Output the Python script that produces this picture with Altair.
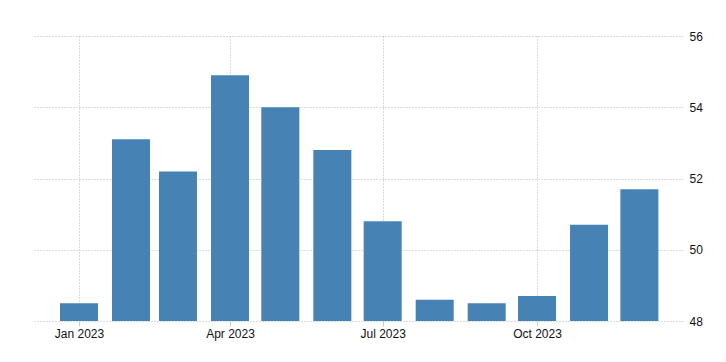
import altair as alt
import pandas as pd

months = ["2023-01-01", "2023-02-01", "2023-03-01", "2023-04-01", "2023-05-01", "2023-06-01",
          "2023-07-01", "2023-08-01", "2023-09-01", "2023-10-01", "2023-11-01", "2023-12-01"]
values = [48.5, 53.1, 52.2, 54.9, 54.0, 52.8, 50.8, 48.6, 48.5, 48.7, 50.7, 51.7]
y_ticks = [48, 50, 52, 54, 56]

df = pd.DataFrame({"date": months, "value": values})

chart = alt.Chart(df).mark_bar(color="#4682b4", size=38).encode(
    x=alt.X("date:T", title=None,
            scale=alt.Scale(type="utc", padding=0,
                            domain=[alt.DateTime(year=2022, month=12, date=4, utc=True),
                                    alt.DateTime(year=2023, month=12, date=27, utc=True)]),
            axis=alt.Axis(format="%b %Y", tickCount={"interval": "month", "step": 3},
                          grid=True, gridDash=[1, 2], gridColor="#b8b8b8",
                          domain=False, ticks=True, tickSize=5, tickColor="#cccccc",
                          labelPadding=2, labelFont="Liberation Sans", labelFontSize=12,
                          labelColor="#111111")),
    y=alt.Y("value:Q", title=None,
            scale=alt.Scale(domain=[48, 56], zero=False, nice=False),
            axis=alt.Axis(orient="right", values=y_ticks, grid=True, gridDash=[1, 2],
                          gridColor="#b8b8b8", domain=False, ticks=False, labelPadding=6,
                          labelFont="Liberation Sans", labelFontSize=12, labelColor="#111111")),
    y2=alt.datum(48),
).properties(
    width=651, height=285,
    autosize=alt.AutoSizeParams(type="none"),
    padding={"left": 24, "top": 28, "right": 35, "bottom": 40},
).configure_view(stroke=None)

chart.save("out.html", embed_options={"renderer": "svg", "actions": False})
